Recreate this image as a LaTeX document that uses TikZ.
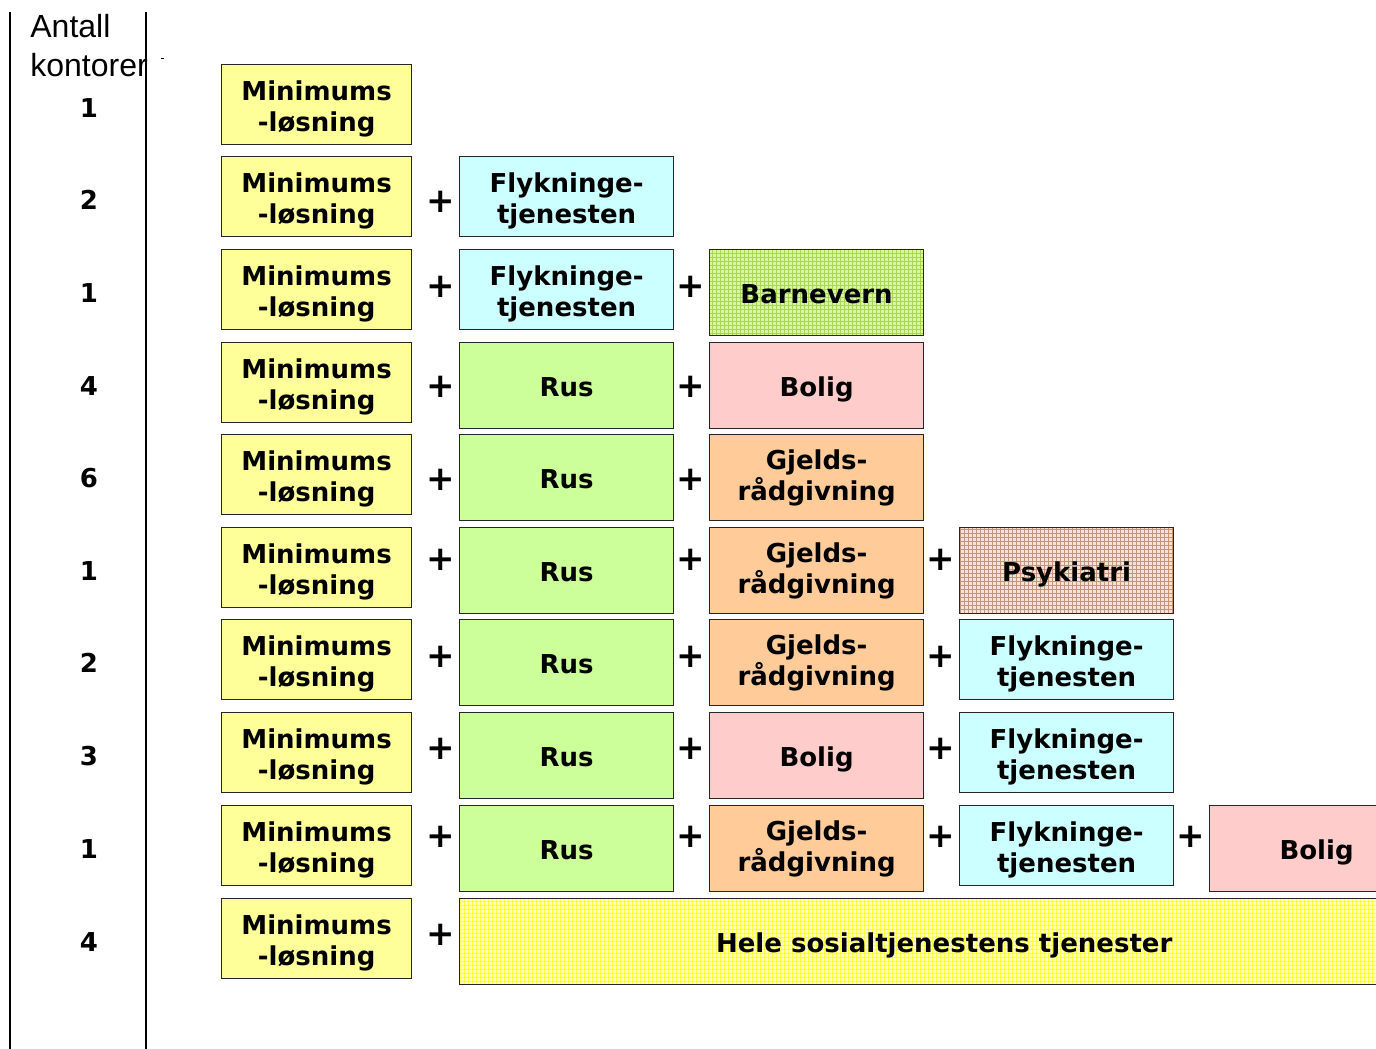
\documentclass[tikz,border=0pt]{standalone}
\usepackage{fontspec}
\setmainfont{DejaVu Sans}
\newfontfamily\arialfont{Liberation Sans}
\usetikzlibrary{patterns.meta}

\definecolor{minyellow}{HTML}{FFFF99}
\definecolor{flycyan}{HTML}{CCFFFF}
\definecolor{rusgreen}{HTML}{CCFF99}
\definecolor{boligpink}{HTML}{FFCCCC}
\definecolor{gjeldorange}{HTML}{FFCC99}
\definecolor{barnbg}{HTML}{D8F6A8}
\definecolor{barnline}{HTML}{A8D84A}
\definecolor{psykbg}{HTML}{F4E2D6}
\definecolor{psykline}{HTML}{C89478}
\definecolor{helebg}{HTML}{FFFFC4}
\definecolor{heleline}{HTML}{FFFF44}

\newcommand\tjfont{\bfseries\fontsize{13}{15.5}\selectfont}

\tikzset{
  tjeneste/.style={draw=black!85, line width=0.6pt, anchor=north west, align=center,
    inner sep=0pt, minimum width=107pt, minimum height=43pt, font=\tjfont,
    text height=13pt, text depth=2pt},
  tolinjer/.style={text height=28pt, text depth=1.5pt},
  minbox/.style={tjeneste, tolinjer, fill=minyellow, minimum width=95pt, minimum height=40pt},
  flybox/.style={tjeneste, tolinjer, fill=flycyan, minimum height=40pt},
  rusbox/.style={tjeneste, fill=rusgreen},
  boligbox/.style={tjeneste, fill=boligpink},
  gjeldbox/.style={tjeneste, fill=gjeldorange, text height=24pt, text depth=1.5pt},
  barnbox/.style={tjeneste, preaction={fill=barnbg},
    pattern={Hatch[distance=2pt, line width=0.25pt]}, pattern color=barnline},
  psykbox/.style={tjeneste, preaction={fill=psykbg},
    pattern={Hatch[distance=2pt, line width=0.25pt]}, pattern color=psykline},
  helebox/.style={tjeneste, preaction={fill=helebg},
    pattern={Hatch[distance=2pt, line width=0.25pt]}, pattern color=heleline,
    minimum width=485pt},
  pluss/.style={font=\bfseries\fontsize{17}{17}\selectfont, inner sep=0pt},
  antall/.style={font=\tjfont, inner sep=0pt}
}

\begin{document}
\begin{tikzpicture}[x=0.5pt, y=-0.5pt]
    \useasboundingbox (0,0) rectangle (1376,1049);
    \clip (0,0) rectangle (1376,1049);

    % Frame lines and heading
    \draw[line width=1pt] (10,12) -- (10,1049);
    \draw[line width=1pt] (146,12) -- (146,1049);
    \draw[line width=0.5pt] (161,58) -- (164,58);
    \node[anchor=north west, inner sep=0pt, align=left,
          font=\arialfont\fontsize{16}{19.5}\selectfont] (overskrift) at (30,14) {Antall\\kontorer};

    % Number of offices and the minimum solution in every row
    \foreach \r/\y/\n in {1/64/1, 2/156/2, 3/249/1, 4/342/4, 5/434/6,
                          6/527/1, 7/619/2, 8/712/3, 9/805/1, 10/898/4} {
        \node[antall] (ant\r) at (89,\y+44) {\n};
        \node[minbox] (min\r) at (221,\y) {Minimums\\-løsning};
    }

    % Second column
    \node[flybox] (fly2) at (459,156) {Flykninge-\\tjenesten};
    \node[flybox] (fly3) at (459,249) {Flykninge-\\tjenesten};
    \foreach \r/\y in {4/342, 5/434, 6/527, 7/619, 8/712, 9/805}
        \node[rusbox] (rus\r) at (459,\y) {Rus};
    \node[helebox] (hele10) at (459,898) {Hele sosialtjenestens tjenester};

    % Third column
    \node[barnbox] (barn3) at (709,249) {Barnevern};
    \node[boligbox] (bolig4) at (709,342) {Bolig};
    \foreach \r/\y in {5/434, 6/527, 7/619, 9/805}
        \node[gjeldbox] (gjeld\r) at (709,\y) {Gjelds-\\rådgivning};
    \node[boligbox] (bolig8) at (709,712) {Bolig};

    % Fourth and fifth column
    \node[psykbox] (psyk6) at (959,527) {Psykiatri};
    \foreach \r/\y in {7/619, 8/712, 9/805}
        \node[flybox] (fly\r) at (959,\y) {Flykninge-\\tjenesten};
    \node[boligbox] (bolig9) at (1209,805) {Bolig};

    % Plus signs
    \foreach \x/\y [count=\i] in {441/202, 441/287, 691/287, 441/387, 691/387,
                                  441/480, 691/480, 441/560, 691/560, 941/560,
                                  441/657, 691/657, 941/657, 441/749, 691/749,
                                  941/749, 441/837, 691/837, 941/837, 1191/837,
                                  441/935}
        \node[pluss] (pl\i) at (\x,\y) {+};
\end{tikzpicture}
\end{document}
